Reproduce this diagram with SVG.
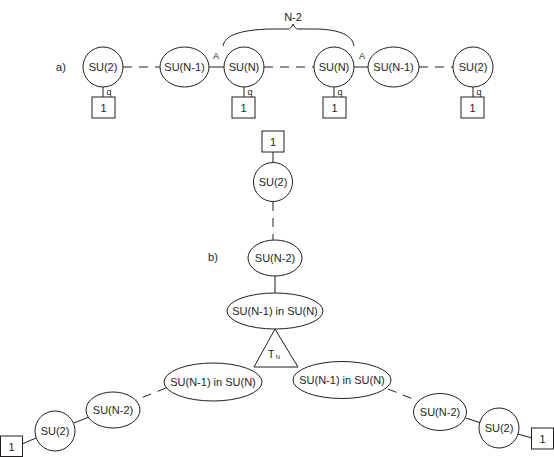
<svg xmlns="http://www.w3.org/2000/svg" width="554" height="457" viewBox="0 0 554 457">
<style>
.n{fill:#fff;stroke:#231f20;stroke-width:1}
.l{stroke:#231f20;stroke-width:1;fill:none}
.d{stroke:#231f20;stroke-width:1;fill:none;stroke-dasharray:9 7}
text{font-family:"Liberation Sans",Arial,sans-serif;font-size:11px;fill:#231f20;text-anchor:middle;dominant-baseline:central}
.s{font-size:9px}
</style>
<rect width="554" height="457" fill="#fff"/>
<g id="connectors">
<line class="d" x1="123" y1="67" x2="160" y2="67"/>
<line class="l" x1="209" y1="67" x2="224" y2="67"/>
<line class="d" x1="264" y1="67" x2="314" y2="67"/>
<line class="l" x1="354" y1="67" x2="368" y2="67"/>
<line class="d" x1="419" y1="67" x2="453" y2="67"/>
<line class="l" x1="103" y1="87" x2="103" y2="97"/>
<line class="l" x1="244" y1="87" x2="244" y2="97"/>
<line class="l" x1="334" y1="87" x2="334" y2="97"/>
<line class="l" x1="473" y1="87" x2="473" y2="97"/>
<path class="l" d="M223 46 C225 35 240 30 270 29 L288 29 C290 29 292 27 293 24 C294 27 296 29 298 29 L318 29 C340 30 352 35 354 46"/>
<line class="l" x1="273" y1="152" x2="273" y2="163"/>
<line class="d" x1="273" y1="202" x2="273" y2="240"/>
<line class="l" x1="275" y1="276" x2="275" y2="293"/>
<line class="d" x1="166" y1="388" x2="136" y2="400"/>
<line class="l" x1="89" y1="417" x2="74" y2="423"/>
<line class="l" x1="36" y1="438" x2="22" y2="444"/>
<line class="d" x1="388" y1="389" x2="418" y2="401"/>
<line class="l" x1="466" y1="418" x2="481" y2="423"/>
<line class="l" x1="518" y1="434" x2="532" y2="438"/>
</g>
<text x="61" y="67">a)</text>
<text x="293" y="17">N-2</text>
<text class="s" x="216" y="56">A</text>
<text class="s" x="362" y="56">A</text>
<text class="s" x="109" y="92">q</text>
<text class="s" x="250" y="92">q</text>
<text class="s" x="340" y="92">q</text>
<text class="s" x="479" y="92">q</text>
<text x="213" y="257">b)</text>
<g id="a_su2_l"><ellipse class="n" cx="103" cy="67" rx="20" ry="20"/><text x="103" y="67">SU(2)</text></g>
<g id="a_sun1_l"><ellipse class="n" cx="184.5" cy="67" rx="24.5" ry="20"/><text x="184.5" y="67">SU(N-1)</text></g>
<g id="a_sun_l"><ellipse class="n" cx="244" cy="67" rx="20" ry="20"/><text x="244" y="67">SU(N)</text></g>
<g id="a_sun_r"><ellipse class="n" cx="334" cy="67" rx="20" ry="20"/><text x="334" y="67">SU(N)</text></g>
<g id="a_sun1_r"><ellipse class="n" cx="393.5" cy="67" rx="25.5" ry="20"/><text x="393.5" y="67">SU(N-1)</text></g>
<g id="a_su2_r"><ellipse class="n" cx="473" cy="67" rx="20" ry="20"/><text x="473" y="67">SU(2)</text></g>
<g id="a_box1"><rect class="n" x="92" y="97" width="23" height="21"/><text x="103.5" y="107.5">1</text></g>
<g id="a_box2"><rect class="n" x="232" y="97" width="23" height="21"/><text x="243.5" y="107.5">1</text></g>
<g id="a_box3"><rect class="n" x="323" y="97" width="23" height="21"/><text x="334.5" y="107.5">1</text></g>
<g id="a_box4"><rect class="n" x="461" y="97" width="23" height="21"/><text x="472.5" y="107.5">1</text></g>
<g id="b_box_top"><rect class="n" x="262" y="131" width="22" height="21"/><text x="273" y="141.5">1</text></g>
<g id="b_su2_top"><ellipse class="n" cx="273" cy="182" rx="19.5" ry="19.5"/><text x="273" y="182">SU(2)</text></g>
<g id="b_sun2_top"><ellipse class="n" cx="275" cy="258" rx="27" ry="18"/><text x="275" y="258">SU(N-2)</text></g>
<g id="b_big_top"><ellipse class="n" cx="275" cy="311" rx="48" ry="18"/><text x="275" y="311">SU(N-1) in SU(N)</text></g>
<g id="b_tn"><polygon class="n" points="275,329 254,367 298,367"/><text x="271" y="354">T</text><text x="278" y="357" style="font-size:6px">N</text></g>
<g id="b_big_left"><ellipse class="n" cx="213" cy="382" rx="49" ry="19"/><text x="213" y="382">SU(N-1) in SU(N)</text></g>
<g id="b_big_right"><ellipse class="n" cx="342" cy="380" rx="49" ry="18.5"/><text x="342" y="380">SU(N-1) in SU(N)</text></g>
<g id="b_sun2_left"><ellipse class="n" cx="113" cy="410" rx="27" ry="18"/><text x="113" y="410">SU(N-2)</text></g>
<g id="b_su2_left"><ellipse class="n" cx="55" cy="431" rx="20" ry="20"/><text x="55" y="431">SU(2)</text></g>
<g id="b_box_left"><rect class="n" x="0.5" y="436" width="22" height="20.5"/><text x="11.5" y="446.5">1</text></g>
<g id="b_sun2_right"><ellipse class="n" cx="440" cy="412" rx="26.5" ry="18.5"/><text x="440" y="412">SU(N-2)</text></g>
<g id="b_su2_right"><ellipse class="n" cx="499" cy="428" rx="20" ry="20"/><text x="499" y="428">SU(2)</text></g>
<g id="b_box_right"><rect class="n" x="531.5" y="428" width="22" height="21"/><text x="542.5" y="438.5">1</text></g>
</svg>
